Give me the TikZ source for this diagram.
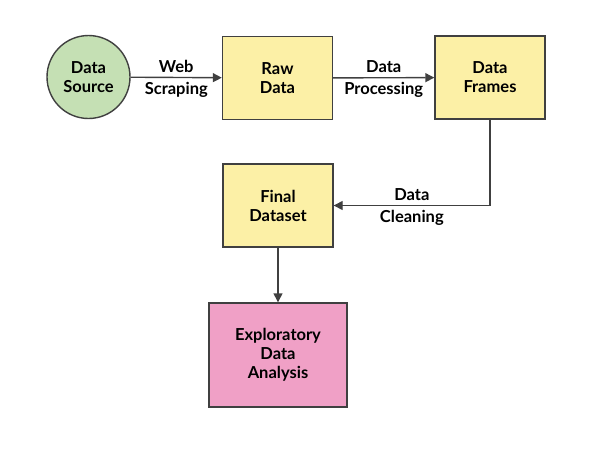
\documentclass[tikz,border=0pt]{standalone}
\usepackage{fontspec}
\setmainfont{Lato}
\usetikzlibrary{arrows.meta,calc}

\definecolor{srcgreen}{RGB}{197,224,180}
\definecolor{boxyellow}{RGB}{252,240,166}
\definecolor{edapink}{RGB}{240,160,198}
\definecolor{linegray}{RGB}{64,64,64}

\begin{document}
\begin{tikzpicture}[x=1pt,y=-1pt,
    box/.style={draw=linegray,line width=1.4pt,fill=boxyellow,minimum width=110pt,minimum height=83pt,align=center,font=\fontsize{16.5}{19}\selectfont\bfseries},
    flow/.style={draw=linegray,line width=1.4pt,-{Triangle[length=9pt,width=9pt]}},
    lbl/.style={font=\fontsize{16.5}{19}\selectfont\bfseries,inner sep=4pt}]
        \useasboundingbox (0,0) rectangle (591,463);
        \node[box,circle,fill=srcgreen,minimum size=83pt,inner sep=0pt] (src) at (88.5,77) {Data\\Source};
        \node[box] (raw) at (277.5,78) {Raw\\Data};
        \node[box] (frames) at (490,77.5) {Data\\Frames};
        \node[box] (final) at (278,205.5) {Final\\Dataset};
        \node[box,fill=edapink,minimum width=138pt,minimum height=104pt] (eda) at (278,355) {Exploratory\\Data\\Analysis};
        \draw[flow] (src) -- node[lbl,above] (web) {Web} node[lbl,below] (scraping) {Scraping} (raw);
        \draw[flow] (raw) -- node[lbl,above] (proc1) {Data} node[lbl,below] (proc2) {Processing} (frames);
        \draw[flow] (frames.south) |- node[lbl,above,pos=0.75] (clean1) {Data} node[lbl,below,pos=0.75] (clean2) {Cleaning} (final.east);
        \draw[flow] (final) -- (eda);
     \end{tikzpicture}
\end{document}
